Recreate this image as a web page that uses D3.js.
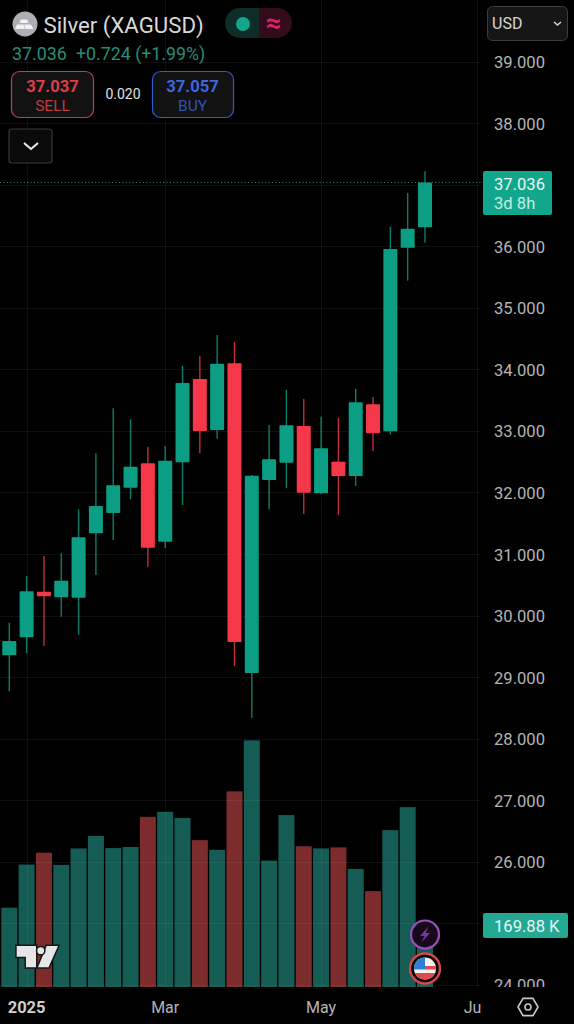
<!DOCTYPE html>
<html><head><meta charset="utf-8">
<script src="https://cdn.jsdelivr.net/npm/d3@7"></script>
<style>html,body{margin:0;padding:0;background:#000;overflow:hidden}svg{display:block;font-family:Roboto,sans-serif}</style>
</head><body><svg id="c" width="574" height="1024"></svg>
<script>
const opens =[29.356,29.648,30.389,30.298,30.291,31.337,31.667,32.078,32.474,31.201,32.49,33.843,33.015,34.098,29.068,32.203,32.484,33.08,31.987,32.5,32.268,33.432,32.994,35.976,36.307];
const closes=[29.588,30.395,30.314,30.567,31.272,31.781,32.117,32.419,31.103,32.516,33.778,32.999,34.092,29.572,32.273,32.539,33.091,31.997,32.718,32.268,33.465,32.961,35.955,36.284,37.036];
const highs =[29.885,30.644,30.969,31.012,31.727,32.637,33.367,33.189,32.744,32.755,34.059,34.217,34.558,34.444,32.284,33.096,33.665,33.518,33.231,33.215,33.686,33.551,36.317,36.864,37.217];
const lows  =[28.771,29.388,29.507,29.983,29.69,30.66,31.228,31.889,30.795,31.098,31.797,32.637,32.874,29.182,28.337,31.727,32.073,31.651,31.971,31.634,32.105,32.674,32.939,35.44,36.057];
const volumes=[221,341,374,340,386,421,387,390,474,488,471,409,382,545,687,352,479,392,386,389,329,267,437,501,169.88];
const gridPrices=[24,25,26,27,28,29,30,31,32,33,34,35,36,37,38,39];
const priceLabels=[24,26,27,28,29,30,31,32,33,34,35,36,38,39];
const timeIdx=[1,9,18,27];
const timeLabels=["2025","Mar","May","Jun"];
const lastPrice=37.036;

const GREEN="#0b9e84",RED="#f5374a",VG="#155c54",VR="#7d2c2e",GRID="rgba(255,255,255,0.06)",AX="#b4b4b4";
const svg=d3.select("#c");
svg.append("rect").attr("width",574).attr("height",1024).attr("fill","#000");
const defs=svg.append("defs");
defs.append("clipPath").attr("id","plot").append("rect").attr("x",-600).attr("width",1200).attr("height",987);
defs.append("clipPath").attr("id","timeclip").append("rect").attr("y",-100).attr("width",482).attr("height",200);
defs.append("clipPath").attr("id","flag").append("circle").attr("cx",425).attr("cy",968.5).attr("r",11);

const x=d3.scaleLinear().domain([0,24]).range([9.3,425]);
const y=d3.scaleLinear().domain([39,24]).range([61.5,985]);
const v=d3.scaleLinear().domain([0,1000]).range([987,628]);
const idx=d3.range(opens.length);

// volume
svg.append("g").selectAll("rect").data(idx).join("rect")
 .attr("x",i=>x(i)-8).attr("width",16).attr("y",i=>v(volumes[i])).attr("height",i=>v(0)-v(volumes[i]))
 .attr("fill",i=>closes[i]>=opens[i]?VG:VR);

// grid
const grid=svg.append("g").attr("stroke",GRID).attr("stroke-width",1);
grid.selectAll(".h").data(gridPrices).join("line").attr("x1",0).attr("x2",480).attr("y1",d=>Math.round(y(d))+.5).attr("y2",d=>Math.round(y(d))+.5);
grid.selectAll(".v").data(timeIdx).join("line").attr("y1",0).attr("y2",987).attr("x1",d=>Math.round(x(d))+.5).attr("x2",d=>Math.round(x(d))+.5);

// last price line
svg.append("line").attr("x1",0).attr("x2",483).attr("y1",y(lastPrice)).attr("y2",y(lastPrice))
 .attr("stroke","#2f9c88").attr("stroke-width",1).attr("stroke-dasharray","1 2.4");

// candles
const col=i=>closes[i]>=opens[i]?GREEN:RED;
svg.append("g").selectAll("line").data(idx).join("line")
 .attr("x1",i=>x(i)).attr("x2",i=>x(i)).attr("y1",i=>y(highs[i])).attr("y2",i=>y(lows[i]))
 .attr("stroke",col).attr("stroke-width",1.4).attr("stroke-opacity",.8);
svg.append("g").selectAll("rect").data(idx).join("rect")
 .attr("x",i=>x(i)-7).attr("width",14).attr("y",i=>y(Math.max(opens[i],closes[i])))
 .attr("height",i=>Math.abs(y(opens[i])-y(closes[i]))).attr("fill",col).attr("rx",.8);

// price axis
const pa=svg.append("g").attr("clip-path","url(#plot)").attr("transform","translate(494,0)")
 .call(d3.axisRight(y).tickValues(priceLabels).tickSize(0).tickPadding(0).tickFormat(d3.format(".3f")));
pa.select(".domain").remove();
pa.selectAll("text").attr("fill",AX).attr("font-size",16.6).attr("font-family","Roboto,sans-serif").attr("dy","0.36em");

// time axis
svg.append("rect").attr("y",987).attr("width",574).attr("height",37).attr("fill","#000");
const ta=svg.append("g").attr("clip-path","url(#timeclip)").attr("transform","translate(0,1007)")
 .call(d3.axisBottom(d3.scalePoint().domain(timeIdx).range([x(timeIdx[0]),x(timeIdx[3])]))
   .tickValues(timeIdx).tickSize(0).tickPadding(0).tickFormat((d,i)=>timeLabels[i]));
ta.select(".domain").remove();
ta.selectAll(".tick").attr("transform",d=>`translate(${x(d)},0)`);
ta.selectAll("text").attr("y",0).attr("fill",AX).attr("font-size",16).attr("font-family","Roboto,sans-serif").attr("dy","0.36em");
ta.selectAll("text").filter((d,i)=>i===0).attr("font-weight",700).attr("font-size",16.5).attr("fill","#cfcfcf");

// settings hexagon
const hex=svg.append("g").attr("transform","translate(528,1007)");
hex.append("path").attr("d","M-5,-8.6L5,-8.6L10,0L5,8.6L-5,8.6L-10,0Z").attr("fill","none").attr("stroke","#c8c8c8").attr("stroke-width",1.6).attr("stroke-linejoin","round");
hex.append("circle").attr("r",3).attr("fill","none").attr("stroke","#c8c8c8").attr("stroke-width",1.6);

// text helper
function T(s,px,py,size,fill,anchor,weight){return svg.append("text").attr("x",px).attr("y",py).attr("font-size",size).attr("fill",fill)
 .attr("text-anchor",anchor||"start").attr("font-weight",weight||400).attr("dominant-baseline","central").text(s);}

// last price tag
svg.append("rect").attr("x",483).attr("y",171).attr("width",69).attr("height",44).attr("rx",2).attr("fill","#12a78c");
T("37.036",494,184.5,16.6,"#e8f6f3");
T("3d 8h",494,203.5,16.6,"#c4ece3");
// volume tag
svg.append("rect").attr("x",483).attr("y",913).attr("width",85).attr("height",25).attr("rx",2).attr("fill","#22a893");
T("169.88 K",494,926,16.6,"#e8f6f3");

// USD
svg.append("rect").attr("x",487.5).attr("y",6.5).attr("width",80).attr("height",34).attr("rx",5).attr("fill","#161616").attr("stroke","#3c3c3c");
T("USD",492,23.5,16,"#d6d6d6");
svg.append("path").attr("d","M554,22L557.5,25L561,22").attr("fill","none").attr("stroke","#d0d0d0").attr("stroke-width",1.6);

// header
svg.append("circle").attr("cx",25).attr("cy",24).attr("r",12.5).attr("fill","#aeaeb4");
svg.append("path").attr("d","M21,19.5h6l1.5,3.5h-9ZM15,29l2-4.6h6.5L25,29ZM25.6,29l-1.4-4.6h6.8L33.5,29Z").attr("fill","#f2f2f2");
T("Silver (XAGUSD)",43.5,24.5,22.2,"#d9d9d9");
svg.append("path").attr("d","M240,8H259V38H240A15,15 0 0 1 240,8Z").attr("fill","#0e2c28");
svg.append("path").attr("d","M259,8H277A15,15 0 0 1 277,38H259Z").attr("fill","#330c1c");
svg.append("circle").attr("cx",243).attr("cy",24).attr("r",7).attr("fill","#13a68c");
T("≈",273.5,23,27,"#d9246c","middle",700);
T("37.036",12,53,17.8,"#2a8d79");
T("+0.724 (+1.99%)",76,53,17.8,"#2a8d79");

svg.append("rect").attr("x",11.5).attr("y",71.5).attr("width",82).attr("height",46).attr("rx",8).attr("fill","#121212").attr("stroke","#c93c46").attr("stroke-width",1.2);
T("37.037",52.5,86,16.6,"#dd3e49","middle",700);
T("SELL",52.5,105.5,15.5,"#c4383f","middle");
T("0.020",123,94,14,"#e2e2e2","middle");
svg.append("rect").attr("x",152.5).attr("y",71.5).attr("width",81).attr("height",46).attr("rx",8).attr("fill","#121212").attr("stroke","#3558cf").attr("stroke-width",1.2);
T("37.057",192.5,86,16.6,"#3d66e0","middle",700);
T("BUY",192.5,105.5,15.5,"#3053b5","middle");
svg.append("rect").attr("x",9).attr("y",129).attr("width",43).attr("height",34).attr("rx",3).attr("fill","#0a0a0a").attr("stroke","#383838").attr("stroke-width",1.2);
svg.append("path").attr("d","M24,143L31,149L38,143").attr("fill","none").attr("stroke","#eee").attr("stroke-width",2);

// TV logo
const tv=svg.append("g").attr("stroke","#161616").attr("stroke-width",3).attr("stroke-linejoin","miter").attr("paint-order","stroke").attr("fill","#e6e6e6");
tv.append("path").attr("d","M16.7,946H36V967.3H26V956.7H16.7Z");
tv.append("path").attr("d","M46.7,946H58L48.5,967.3H38Z");
tv.append("circle").attr("cx",40.7).attr("cy",950.7).attr("r",3.4);

// event icons
svg.append("circle").attr("cx",425).attr("cy",934.5).attr("r",14).attr("fill","#15091b").attr("stroke","#9a50b6").attr("stroke-width",2.2);
svg.append("path").attr("d","M428.5,926.5L420,936H424.5L421.5,942.5L430,933H425.5Z").attr("fill","#7a35a0");
svg.append("circle").attr("cx",425).attr("cy",968.5).attr("r",15).attr("fill","#0a0a0a").attr("stroke","#d8454a").attr("stroke-width",2.4);
const fl=svg.append("g").attr("clip-path","url(#flag)");
fl.append("rect").attr("x",414).attr("y",957).attr("width",22).attr("height",23).attr("fill","#f4f4f4");
fl.append("rect").attr("x",414).attr("y",966).attr("width",22).attr("height",3.5).attr("fill","#e0484c");
fl.append("rect").attr("x",414).attr("y",973).attr("width",22).attr("height",7).attr("fill","#e0484c");
fl.append("rect").attr("x",414).attr("y",957).attr("width",11).attr("height",12).attr("fill","#2f7fd6");
</script></body></html>
